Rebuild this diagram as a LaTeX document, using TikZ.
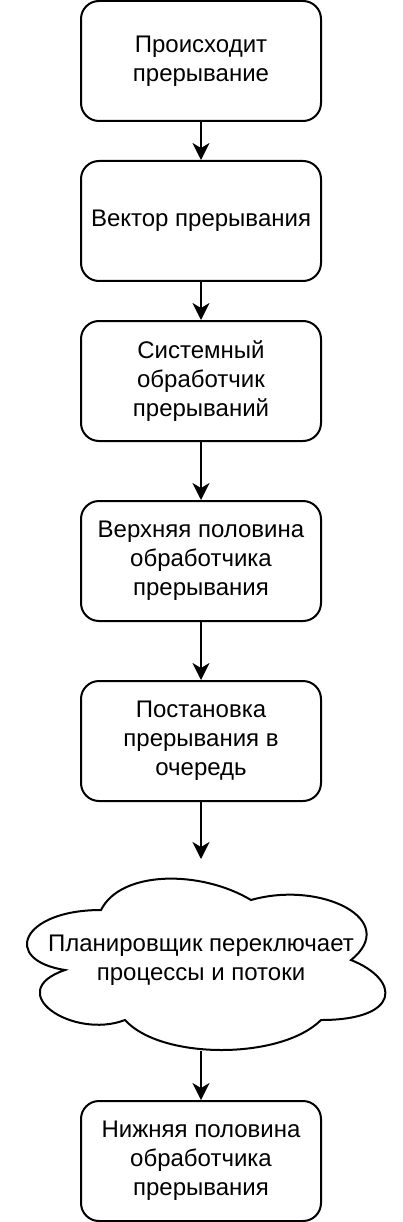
\documentclass[tikz,border=0pt]{standalone}
\usepackage{fontspec}
\setmainfont{Liberation Sans}
\usetikzlibrary{arrows.meta}

\begin{document}
\begin{tikzpicture}[x=1pt,y=-1pt,line width=2pt,
	kasten/.style={draw,rounded corners=18pt,minimum width=240pt,minimum height=120pt,
		align=center,font=\fontsize{24}{28.8}\selectfont},
	wolketext/.style={minimum width=400pt,minimum height=200pt,
		align=center,font=\fontsize{24}{28.8}\selectfont},
	pfeil/.style={-{Stealth[length=17pt,width=17pt,inset=5pt]}}]

\useasboundingbox (0,0) rectangle (402,1222);

\def\wolke#1#2#3#4{
	\draw ({#1+.25*#3},{#2+.25*#4})
		.. controls ({#1+.05*#3},{#2+.25*#4}) and ({#1},{#2+.5*#4}) .. ({#1+.16*#3},{#2+.55*#4})
		.. controls ({#1},{#2+.66*#4}) and ({#1+.18*#3},{#2+.9*#4}) .. ({#1+.31*#3},{#2+.8*#4})
		.. controls ({#1+.4*#3},{#2+#4}) and ({#1+.7*#3},{#2+#4}) .. ({#1+.8*#3},{#2+.8*#4})
		.. controls ({#1+#3},{#2+.8*#4}) and ({#1+#3},{#2+.6*#4}) .. ({#1+.875*#3},{#2+.5*#4})
		.. controls ({#1+#3},{#2+.3*#4}) and ({#1+.8*#3},{#2+.1*#4}) .. ({#1+.625*#3},{#2+.2*#4})
		.. controls ({#1+.5*#3},{#2+.05*#4}) and ({#1+.3*#3},{#2+.05*#4}) .. cycle;
}

\node[kasten] (start) at (201,61) {Происходит\\прерывание};
\node[kasten] (vektor) at (201,221) {Вектор прерывания};
\node[kasten] (system) at (201,381) {Системный\\обработчик\\прерываний};
\node[kasten] (oben) at (201,561) {Верхняя половина\\обработчика\\прерывания};
\node[kasten] (warte) at (201,741) {Постановка\\прерывания в\\очередь};
\node[wolketext] (plan) at (201,960) {Планировщик переключает\\процессы и потоки};
\node[kasten] (unten) at (201,1161) {Нижняя половина\\обработчика\\прерывания};

\wolke{1}{860}{400}{200}

\draw[pfeil] (start) -- (vektor);
\draw[pfeil] (vektor) -- (system);
\draw[pfeil] (system) -- (oben);
\draw[pfeil] (oben) -- (warte);
\draw[pfeil] (warte) -- (plan.north);
\draw[pfeil] ([yshift=10pt]plan.south) -- (unten);

\end{tikzpicture}
\end{document}
